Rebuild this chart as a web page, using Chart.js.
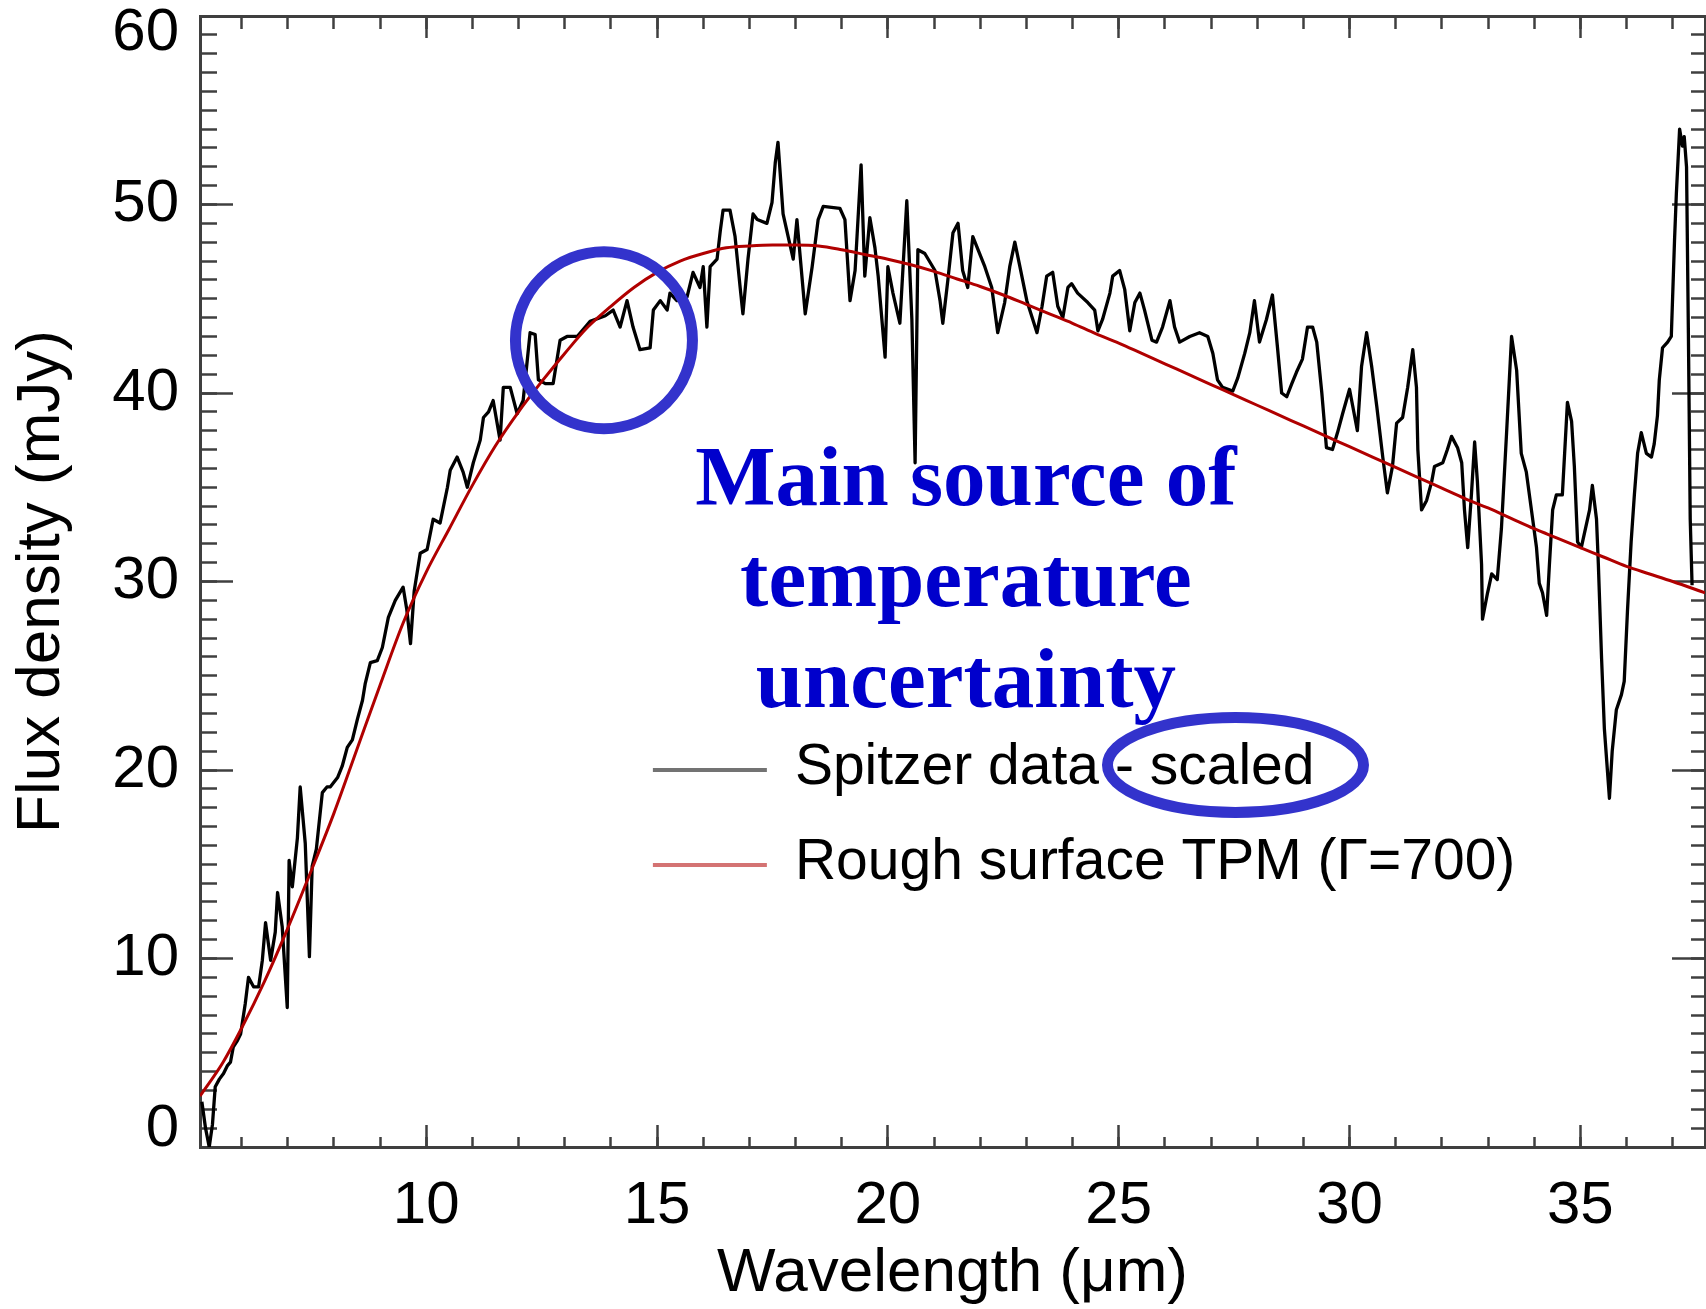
<!DOCTYPE html>
<html>
<head>
<meta charset="utf-8">
<script src="https://cdn.jsdelivr.net/npm/chart.js@4.4.1/dist/chart.umd.min.js"></script>
<style>
  html, body { margin: 0; padding: 0; background: #ffffff; }
  #wrap { width: 1706px; height: 1309px; position: relative; }
  canvas { display: block; }
</style>
</head>
<body>
<div id="wrap"><canvas id="chart" width="1706" height="1309"></canvas></div>
<script>
// ---------------- data ----------------
const spitzerWavelength = [
  5.14, 5.22, 5.30, 5.37, 5.43, 5.52, 5.61, 5.69, 5.76, 5.82,
  5.90, 5.98, 6.08, 6.15, 6.26, 6.37, 6.45, 6.52, 6.63, 6.73,
  6.78, 6.88, 6.99, 7.03, 7.10, 7.21, 7.27, 7.38, 7.47, 7.53,
  7.62, 7.75, 7.85, 7.92, 8.08, 8.18, 8.29, 8.40, 8.51, 8.62,
  8.68, 8.79, 8.94, 9.05, 9.18, 9.33, 9.50, 9.58, 9.66, 9.74,
  9.87, 10.02, 10.15, 10.30, 10.46, 10.52, 10.67, 10.80, 10.89, 11.02,
  11.17, 11.24, 11.35, 11.45, 11.60, 11.67, 11.82, 11.97, 12.10, 12.25,
  12.36, 12.43, 12.58, 12.75, 12.90, 13.05, 13.27, 13.55, 13.88, 14.05,
  14.20, 14.35, 14.48, 14.63, 14.85, 14.92, 15.07, 15.22, 15.28, 15.43,
  15.65, 15.78, 15.93, 16.00, 16.08, 16.15, 16.30, 16.37, 16.43, 16.58,
  16.69, 16.80, 16.86, 16.97, 17.08, 17.17, 17.38, 17.49, 17.56, 17.62,
  17.73, 17.84, 17.95, 18.03, 18.21, 18.36, 18.49, 18.60, 18.96, 19.07,
  19.18, 19.29, 19.42, 19.50, 19.61, 19.72, 19.79, 19.94, 20.00, 20.11,
  20.26, 20.41, 20.52, 20.59, 20.65, 20.80, 21.02, 21.13, 21.19, 21.30,
  21.41, 21.52, 21.62, 21.73, 21.84, 22.10, 22.25, 22.38, 22.53, 22.64,
  22.75, 22.86, 23.01, 23.23, 23.34, 23.44, 23.57, 23.68, 23.79, 23.90,
  23.98, 24.11, 24.33, 24.48, 24.55, 24.65, 24.81, 24.87, 25.02, 25.13,
  25.24, 25.35, 25.46, 25.56, 25.72, 25.82, 25.95, 26.11, 26.21, 26.32,
  26.54, 26.75, 26.93, 27.04, 27.14, 27.25, 27.47, 27.58, 27.73, 27.84,
  27.94, 28.05, 28.20, 28.33, 28.44, 28.53, 28.64, 28.75, 28.85, 28.98,
  29.09, 29.20, 29.29, 29.40, 29.50, 29.63, 29.74, 29.85, 30.00, 30.07,
  30.17, 30.26, 30.37, 30.48, 30.59, 30.72, 30.82, 30.93, 31.02, 31.15,
  31.26, 31.37, 31.45, 31.48, 31.56, 31.67, 31.78, 31.84, 32.02, 32.12,
  32.21, 32.34, 32.43, 32.49, 32.56, 32.64, 32.71, 32.77, 32.86, 32.88,
  32.99, 33.08, 33.20, 33.29, 33.40, 33.51, 33.62, 33.72, 33.83, 33.94,
  34.05, 34.11, 34.18, 34.27, 34.33, 34.40, 34.48, 34.61, 34.72, 34.81,
  34.87, 34.94, 35.02, 35.20, 35.26, 35.35, 35.39, 35.46, 35.52, 35.63,
  35.69, 35.78, 35.89, 35.95, 36.02, 36.10, 36.17, 36.24, 36.32, 36.43,
  36.54, 36.60, 36.67, 36.71, 36.78, 36.89, 36.97, 37.04, 37.08, 37.15,
  37.21, 37.25, 37.30, 37.34, 37.38, 37.42
];
const spitzerFlux = [
  2.4, 1.0, 0.0, 1.2, 3.2, 3.6, 3.9, 4.3, 4.5, 5.3,
  5.6, 6.0, 7.6, 9.0, 8.5, 8.5, 9.9, 11.9, 9.9, 11.4,
  13.5, 11.7, 7.4, 15.2, 13.8, 16.4, 19.1, 16.1, 10.1, 14.9,
  15.8, 18.8, 19.1, 19.1, 19.6, 20.2, 21.2, 21.6, 22.7, 23.7,
  24.6, 25.7, 25.8, 26.5, 28.1, 29.0, 29.7, 28.5, 26.7, 29.5,
  31.5, 31.7, 33.3, 33.1, 35.0, 35.9, 36.6, 35.8, 35.0, 36.3,
  37.5, 38.7, 39.0, 39.6, 37.5, 40.3, 40.3, 38.9, 39.6, 43.2,
  43.1, 40.7, 40.5, 40.5, 42.8, 43.0, 43.0, 43.8, 44.1, 44.4,
  43.5, 44.9, 43.5, 42.3, 42.4, 44.4, 44.9, 44.4, 45.3, 44.9,
  45.1, 46.4, 45.6, 46.7, 43.5, 46.7, 47.1, 48.6, 49.7, 49.7,
  48.3, 45.6, 44.2, 47.1, 49.5, 49.2, 49.0, 50.1, 52.2, 53.3,
  49.5, 48.3, 47.1, 49.2, 44.2, 46.7, 49.2, 49.9, 49.8, 49.2,
  44.9, 46.5, 52.1, 46.2, 49.3, 47.7, 46.2, 41.9, 46.7, 45.3,
  43.7, 50.2, 43.9, 36.3, 47.6, 47.4, 46.5, 44.9, 43.7, 46.0,
  48.5, 49.0, 46.5, 45.6, 48.3, 46.7, 45.6, 43.2, 44.8, 46.7,
  48.0, 46.7, 44.9, 43.2, 44.6, 46.2, 46.4, 44.6, 44.0, 45.6,
  45.8, 45.3, 44.8, 44.4, 43.3, 43.9, 45.3, 46.2, 46.5, 45.5,
  43.3, 44.8, 45.3, 44.4, 42.8, 42.7, 43.5, 44.9, 43.5, 42.7,
  43.0, 43.2, 43.0, 42.1, 40.7, 40.3, 40.1, 40.8, 42.1, 43.2,
  44.9, 42.7, 43.9, 45.2, 42.4, 40.0, 39.8, 40.5, 41.1, 41.8,
  43.5, 43.5, 42.7, 40.0, 37.1, 37.0, 37.9, 38.9, 40.2, 39.3,
  38.0, 41.4, 43.2, 41.4, 39.3, 36.6, 34.7, 36.1, 38.4, 38.7,
  40.3, 42.3, 40.3, 37.0, 33.8, 34.3, 35.3, 36.1, 36.3, 37.0,
  37.7, 37.1, 36.3, 33.8, 31.8, 34.6, 37.4, 35.3, 30.9, 28.0,
  29.4, 30.4, 30.1, 32.8, 37.8, 43.0, 41.2, 36.8, 35.8, 33.8,
  31.8, 29.9, 29.4, 28.2, 30.9, 33.8, 34.6, 34.6, 39.5, 38.5,
  36.1, 32.1, 31.8, 33.8, 35.1, 33.3, 30.9, 25.9, 22.2, 18.5,
  21.0, 23.2, 24.0, 24.7, 28.4, 32.1, 34.6, 36.8, 37.9, 36.8,
  36.6, 37.3, 38.8, 40.7, 42.4, 42.7, 43.0, 48.1, 50.6, 54.0,
  53.1, 53.6, 52.0, 43.2, 33.3, 29.8
];
const modelWavelength = [
  5.1, 5.6, 6.0, 6.5, 7.0, 7.5, 8.0, 8.5, 9.0, 9.5,
  10.0, 10.5, 11.0, 11.5, 12.0, 12.5, 13.0, 13.5, 14.0, 14.5,
  15.0, 15.5, 16.0, 16.5, 17.0, 17.5, 18.0, 18.5, 19.0, 19.5,
  20.0, 20.5, 21.0, 21.5, 22.0, 22.5, 23.0, 23.5, 24.0, 24.5,
  25.0, 25.5, 26.0, 26.5, 27.0, 27.5, 28.0, 28.5, 29.0, 29.5,
  30.0, 30.5, 31.0, 31.5, 32.0, 32.5, 33.0, 33.5, 34.0, 34.5,
  35.0, 35.5, 36.0, 36.5, 37.0, 37.7
];
const modelFlux = [
  2.7, 4.5, 6.3, 8.8, 11.6, 14.6, 17.7, 21.1, 24.5, 27.8,
  30.5, 32.8, 35.1, 37.2, 39.0, 40.6, 42.1, 43.5, 44.6, 45.6,
  46.4, 47.0, 47.4, 47.7, 47.8, 47.85, 47.85, 47.8, 47.6, 47.35,
  47.1, 46.8, 46.45, 46.05, 45.65, 45.2, 44.7, 44.2, 43.7, 43.15,
  42.65, 42.1, 41.55, 41.0, 40.45, 39.9, 39.35, 38.8, 38.25, 37.7,
  37.15, 36.6, 36.05, 35.5, 34.95, 34.4, 33.9, 33.35, 32.8, 32.3,
  31.8, 31.3, 30.8, 30.4, 30.0, 29.4
];
const seriesLabels = ['Spitzer data - scaled', 'Rough surface TPM (\u0393=700)'];
const xTickValues = [10, 15, 20, 25, 30, 35];
const yTickValues = [0, 10, 20, 30, 40, 50, 60];
const xRange = [5.1, 37.7];
const yRange = [0, 60];
const xTitle = 'Wavelength (\u03bcm)';
const yTitle = 'Flux density (mJy)';
const noteLines = ['Main source of', 'temperature', 'uncertainty'];
// annotation anchors in data units
const circleAt = { x: 13.85, y: 42.8 };
const ellipseAt = { x: 27.53, y: 20.27 };
const noteAt = { x: 21.69, y: 34.06 };
const legendAt = { x: 14.91, y: 20.0 };

// ---------------- styling ----------------
const SANS = "'Liberation Sans', Arial, Helvetica, sans-serif";
const SERIF = "'Liberation Serif', 'Times New Roman', Times, serif";
const frameColor = '#3f3f3f';
const tickFont = { family: SANS, size: 60 };

function setMajor(list) {
  return function (scale) { scale.ticks = list.map(v => ({ value: v })); };
}
function setMinor(scale) {
  const t = [];
  for (let v = Math.ceil(scale.min); v <= Math.floor(scale.max); v++) t.push({ value: v });
  scale.ticks = t;
}
function fitTo(w, h) {
  return function (scale) {
    if (w !== null) scale.width = w;
    if (h !== null) scale.height = h;
    scale.paddingTop = 0; scale.paddingBottom = 0;
    scale.paddingLeft = 0; scale.paddingRight = 0;
  };
}
function tickAxis(position, range, weight, ticksFn, len, border, size) {
  const horiz = position === 'top' || position === 'bottom';
  return {
    type: 'linear', position: position, min: range[0], max: range[1], weight: weight,
    afterBuildTicks: ticksFn,
    afterFit: horiz ? fitTo(null, size) : fitTo(size, null),
    ticks: { display: false, autoSkip: false },
    grid: { display: true, drawOnChartArea: false, drawTicks: true, tickLength: len,
            tickWidth: 2.5, tickColor: frameColor },
    border: { display: border, width: 3, color: frameColor }
  };
}

const ctx = document.getElementById('chart').getContext('2d');

const overlayPlugin = {
  id: 'overlay',
  afterDatasetsDraw(chart) {
    const c = chart.ctx;
    const xs = chart.scales.x, ys = chart.scales.y;
    c.save();
    // legend
    const lx = xs.getPixelForValue(legendAt.x);
    const ly = ys.getPixelForValue(legendAt.y);
    chart.data.datasets.forEach((ds, i) => {
      const yy = ly + i * 95;
      c.globalAlpha = 0.55;
      c.strokeStyle = ds.borderColor;
      c.lineWidth = 4;
      c.beginPath(); c.moveTo(lx, yy); c.lineTo(lx + 114, yy); c.stroke();
      c.globalAlpha = 1;
      c.fillStyle = '#000';
      c.font = '57px ' + SANS;
      c.textAlign = 'left';
      c.textBaseline = 'alphabetic';
      c.fillText(ds.label, lx + 114 + 28, yy + 14);
    });
    // blue annotation marks
    c.strokeStyle = '#3333cc';
    c.lineWidth = 11;
    c.beginPath();
    c.arc(xs.getPixelForValue(circleAt.x), ys.getPixelForValue(circleAt.y), 88.5, 0, Math.PI * 2);
    c.stroke();
    c.beginPath();
    c.ellipse(xs.getPixelForValue(ellipseAt.x), ys.getPixelForValue(ellipseAt.y), 128, 47.5, 0, 0, Math.PI * 2);
    c.stroke();
    c.fillStyle = '#0000cc';
    c.font = 'bold 85px ' + SERIF;
    c.textAlign = 'center';
    c.textBaseline = 'alphabetic';
    const nx = xs.getPixelForValue(noteAt.x), ny = ys.getPixelForValue(noteAt.y);
    noteLines.forEach((t, i) => c.fillText(t, nx, ny + i * 101));
    c.restore();
  }
};

new Chart(ctx, {
  type: 'line',
  data: {
    datasets: [
      {
        label: seriesLabels[0],
        data: spitzerWavelength.map((w, i) => ({ x: w, y: spitzerFlux[i] })),
        borderColor: '#000000',
        borderWidth: 3.3,
        borderJoinStyle: 'round',
        pointRadius: 0,
        fill: false,
        tension: 0,
        order: 1
      },
      {
        label: seriesLabels[1],
        data: modelWavelength.map((w, i) => ({ x: w, y: modelFlux[i] })),
        borderColor: '#b00000',
        borderWidth: 3,
        pointRadius: 0,
        fill: false,
        cubicInterpolationMode: 'monotone',
        order: 0
      }
    ]
  },
  options: {
    responsive: false,
    animation: false,
    devicePixelRatio: 1,
    layout: { padding: { left: 0, top: 16, right: 1, bottom: 0 } },
    plugins: { legend: { display: false }, tooltip: { enabled: false } },
    scales: {
      x: {
        type: 'linear', position: 'bottom', min: xRange[0], max: xRange[1], weight: 1,
        afterBuildTicks: setMajor(xTickValues),
        afterFit: fitTo(null, 162),
        ticks: { font: tickFont, color: '#000', padding: 45.5, autoSkip: false, maxRotation: 0, minRotation: 0 },
        grid: { display: true, drawOnChartArea: false, drawTicks: true, tickLength: -22, tickWidth: 2.5, tickColor: frameColor },
        border: { display: true, width: 3, color: frameColor },
        title: { display: true, text: xTitle, color: '#000', font: { family: SANS, size: 62, lineHeight: 1 }, padding: { top: 0, bottom: 4 } }
      },
      xMinor: tickAxis('bottom', xRange, 0, setMinor, -10, false, 0),
      xTop: tickAxis('top', xRange, 1, setMajor(xTickValues), -22, true, 0),
      xTopMinor: tickAxis('top', xRange, 0, setMinor, -13, false, 0),
      y: {
        type: 'linear', position: 'left', min: yRange[0], max: yRange[1], weight: 1,
        afterBuildTicks: setMajor(yTickValues),
        afterFit: fitTo(200, null),
        ticks: {
          font: { family: SANS, size: 60, lineHeight: 0.58 }, color: '#000', padding: 54, autoSkip: false,
          callback: function (value) {
            if (value === yRange[1]) return ['', String(value)];
            if (value === yRange[0]) return [String(value), ''];
            return String(value);
          }
        },
        grid: { display: true, drawOnChartArea: false, drawTicks: true, tickLength: -33, tickWidth: 2.5, tickColor: frameColor },
        border: { display: true, width: 3, color: frameColor },
        title: { display: true, text: yTitle, color: '#000', font: { family: SANS, size: 62, lineHeight: 1 }, padding: { top: 11, bottom: 0 } }
      },
      yMinor: tickAxis('left', yRange, 0, setMinor, -17, false, 0),
      yRight: tickAxis('right', yRange, 0, setMajor(yTickValues), -33, true, 0),
      yRightMinor: tickAxis('right', yRange, 1, setMinor, -14, false, 0)
    }
  },
  plugins: [overlayPlugin]
});
</script>
</body>
</html>
